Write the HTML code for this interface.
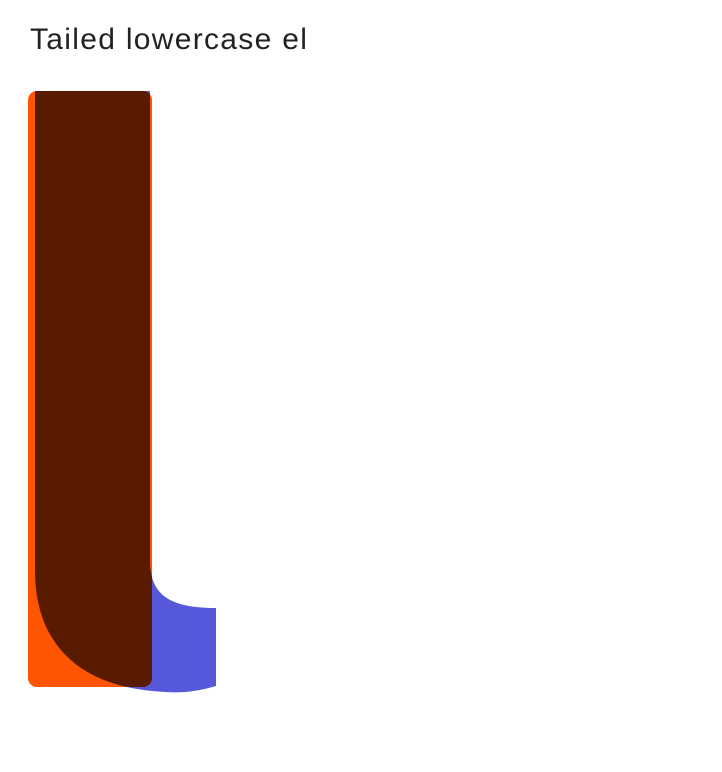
<!DOCTYPE html>
<html><head><meta charset="utf-8"><style>
html,body{margin:0;padding:0;background:#fff;width:722px;height:772px;overflow:hidden}
.t{position:absolute;left:30px;top:25px;font:30px/30px "Liberation Sans",sans-serif;letter-spacing:1.3px;color:#222;white-space:nowrap}
svg{position:absolute;left:0;top:0}
</style></head><body>
<div class="t">Tailed lowercase el</div>
<svg width="722" height="772">
<defs>
<path id="bl" d="M35,91 H150 V565 C152,595 170,608 216,608 V686 C195,692 182,693 165,692 C80,688 35,645 35,570 Z"/>
<clipPath id="oc"><rect x="28" y="91" width="124" height="596" rx="9"/></clipPath>
</defs>
<use href="#bl" fill="#5558D8"/>
<rect x="28" y="91" width="124" height="596" rx="9" fill="#FF5500"/>
<use href="#bl" fill="#581B00" clip-path="url(#oc)"/>
</svg>
</body></html>
